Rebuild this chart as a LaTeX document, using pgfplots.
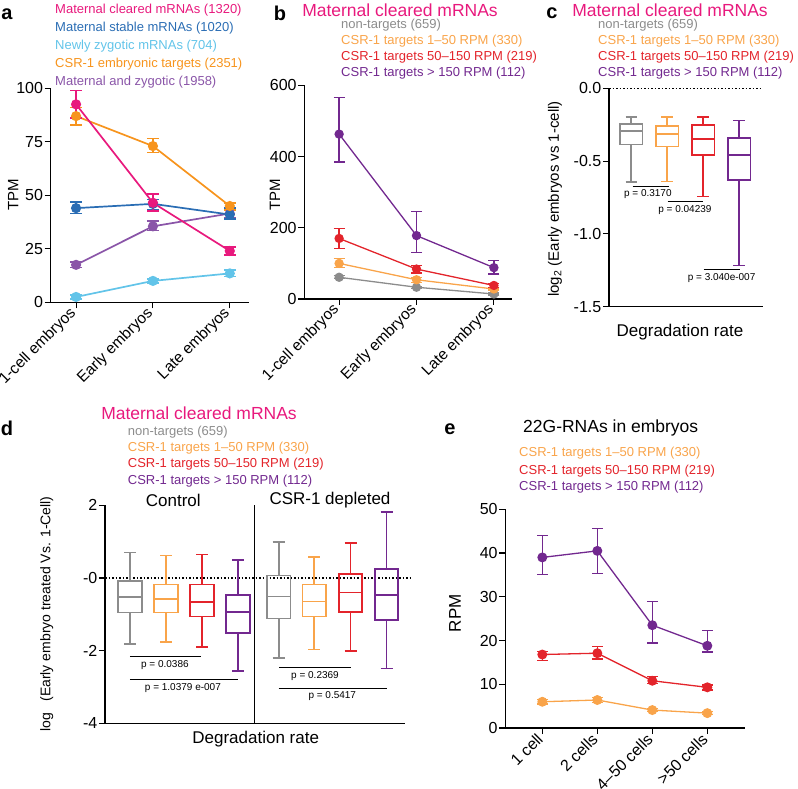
\documentclass[border=0pt]{standalone}
\usepackage{pgfplots}
\pgfplotsset{compat=1.18}
\usepackage{fontspec}
\setmainfont{Liberation Sans}

\definecolor{cmag}{HTML}{E8197D}
\definecolor{cblue}{HTML}{2A6DB4}
\definecolor{clblue}{HTML}{62C4E9}
\definecolor{corg}{HTML}{F7941D}
\definecolor{cpurp}{HTML}{8A55A8}
\definecolor{cgray}{HTML}{8C8C8C}
\definecolor{clorg}{HTML}{F9A44A}
\definecolor{cred}{HTML}{E3242B}
\definecolor{cdpurp}{HTML}{72288F}

\newcommand{\fs}[1]{\fontsize{#1}{#1}\selectfont}

\pgfplotsset{
  prism/.style={
    scale only axis, clip=false,
    axis lines=left, axis line style={-, line width=1.1pt},
    major tick length=6pt, tick align=outside,
    every tick/.style={black, line width=1.1pt},
    tick label style={font=\fs{16}},
    /pgf/number format/assume math mode=true,
    yticklabel style={inner sep=1.5pt},
  },
  ser/.style n args={4}{#1, line width=#2, mark=*, mark size=#3,
    mark options={solid, fill=#1},
    error bars/y dir=both, error bars/y explicit,
    error bars/error bar style={line width=#2, solid},
    error bars/error mark options={rotate=90, line width=#2, mark size=#4, #1}},
  bx/.style={line width=1.7pt, solid, mark=none, line join=miter},
}
\tikzset{
  lg/.style={anchor=west, inner sep=0pt, font=\fs{13}},
  ttl/.style={inner sep=0pt, font=\fs{17.5}},
  let/.style={inner sep=0pt, font=\fs{20}\bfseries},
  pv/.style={inner sep=0pt, font=\fs{10}},
}

% box: #1 colour, #2 position, #3 low whisker, #4 Q1, #5 median, #6 Q3, #7 high whisker, #8 half width
\newcommand{\bplot}[8]{%
  \pgfmathsetmacro\bxL{#2-#8}\pgfmathsetmacro\bxR{#2+#8}%
  \pgfmathsetmacro\cpL{#2-0.51*#8}\pgfmathsetmacro\cpR{#2+0.51*#8}%
  \edef\doit{%
    \noexpand\addplot[#1, bx] coordinates {(\bxL,#4) (\bxR,#4) (\bxR,#6) (\bxL,#6) (\bxL,#4) (\bxR,#4)};
    \noexpand\addplot[#1, bx] coordinates {(\bxL,#5) (\bxR,#5)};
    \noexpand\addplot[#1, bx] coordinates {(#2,#6) (#2,#7)};
    \noexpand\addplot[#1, bx] coordinates {(\cpL,#7) (\cpR,#7)};
    \noexpand\addplot[#1, bx] coordinates {(#2,#4) (#2,#3)};
    \noexpand\addplot[#1, bx] coordinates {(\cpL,#3) (\cpR,#3)};
  }\doit}

\begin{document}
\begin{tikzpicture}
\path[use as bounding box] (0pt,0pt) rectangle (798pt,788pt);

\begin{scope}[x=1pt, y=1pt]
% panel a texts
\node[let] at (7,774) {a};
\node[lg, text=cmag]   at (55,777.5) {Maternal cleared mRNAs (1320)};
\node[lg, text=cblue]  at (55,759.7) {Maternal stable mRNAs (1020)};
\node[lg, text=clblue] at (55,741.9) {Newly zygotic mRNAs (704)};
\node[lg, text=corg]   at (55,724.1) {CSR-1 embryonic targets (2351)};
\node[lg, text=cpurp]  at (55,706.3) {Maternal and zygotic (1958)};
\node[rotate=90, font=\fs{15}] at (13.3,593) {TPM};
% panel b texts
\node[let] at (280,775) {b};
\node[ttl, text=cmag] at (400,778) {Maternal cleared mRNAs};
\node[lg, text=cgray]  at (341,763) {non-targets (659)};
\node[lg, text=clorg]  at (341,747) {CSR-1 targets 1–50 RPM (330)};
\node[lg, text=cred]   at (341,731) {CSR-1 targets 50–150 RPM (219)};
\node[lg, text=cdpurp] at (341,715) {CSR-1 targets > 150 RPM (112)};
\node[rotate=90, font=\fs{15}] at (275,593) {TPM};
% panel c texts
\node[let] at (552,775) {c};
\node[ttl, text=cmag] at (670,778) {Maternal cleared mRNAs};
\node[lg, text=cgray]  at (598,763) {non-targets (659)};
\node[lg, text=clorg]  at (598,747) {CSR-1 targets 1–50 RPM (330)};
\node[lg, text=cred]   at (598,731) {CSR-1 targets 50–150 RPM (219)};
\node[lg, text=cdpurp] at (598,715) {CSR-1 targets > 150 RPM (112)};
\node[rotate=90, font=\fs{15}] at (555,589) {log\textsubscript{2} (Early embryos vs 1-cell)};
\node[font=\fs{17}] at (680,456.3) {Degradation rate};
% panel d texts
\node[let] at (7,360) {d};
\node[ttl, text=cmag] at (199,374.7) {Maternal cleared mRNAs};
\node[lg, text=cgray]  at (127.7,355.7) {non-targets (659)};
\node[lg, text=clorg]  at (127.7,339.5) {CSR-1 targets 1–50 RPM (330)};
\node[lg, text=cred]   at (127.7,323.4) {CSR-1 targets 50–150 RPM (219)};
\node[lg, text=cdpurp] at (127.7,307.3) {CSR-1 targets > 150 RPM (112)};
\node[rotate=90, font=\fs{14}] at (46.7,174) {log\hspace{0.8em}(Early embryo treated Vs. 1-Cell)};
\node[font=\fs{17}] at (173.3,288) {Control};
\node[font=\fs{17}] at (330,288) {CSR-1 depleted};
\node[font=\fs{17}] at (255.7,48.7) {Degradation rate};
% panel e texts
\node[let] at (450,359) {e};
\node[ttl] at (610.7,359.7) {22G-RNAs in embryos};
\node[lg, text=clorg]  at (519,334.7) {CSR-1 targets 1–50 RPM (330)};
\node[lg, text=cred]   at (519,317) {CSR-1 targets 50–150 RPM (219)};
\node[lg, text=cdpurp] at (519,300.7) {CSR-1 targets > 150 RPM (112)};
\node[rotate=90, font=\fs{17}] at (455,174.7) {RPM};
\end{scope}

% ---------------- panel a ----------------
\begin{axis}[prism, at={(50.7pt,485.7pt)}, anchor=south west,
  width=198.3pt, height=214pt,
  xmin=-0.33, xmax=2.25, ymin=0, ymax=100,
  xtick={0,1,2}, xticklabels={1-cell embryos, Early embryos, Late embryos},
  xticklabel style={rotate=45, anchor=east, font=\fs{15.5}},
  ytick={0,25,50,75,100}]
\addplot[ser={cpurp}{1.7pt}{4.2pt}{6pt}] coordinates {
  (0,17.5) += (0,1.2) -= (0,1.2) (1,35.5) += (0,2.5) -= (0,2) (2,41.5) += (0,2) -= (0,2)};
\addplot[ser={clblue}{1.7pt}{4.2pt}{6pt}] coordinates {
  (0,2.5) += (0,0.8) -= (0,0.8) (1,10) += (0,1) -= (0,1) (2,13.5) += (0,1.5) -= (0,1.5)};
\addplot[ser={cblue}{1.7pt}{4.2pt}{6pt}] coordinates {
  (0,44) += (0,3) -= (0,2.5) (1,46) += (0,2) -= (0,3) (2,41) += (0,3) -= (0,2)};
\addplot[ser={corg}{1.7pt}{4.2pt}{6pt}] coordinates {
  (0,87) += (0,4) -= (0,4) (1,73) += (0,3.5) -= (0,3) (2,45) += (0,1.5) -= (0,2)};
\addplot[ser={cmag}{1.7pt}{4.2pt}{6pt}] coordinates {
  (0,92.5) += (0,6.5) -= (0,6.5) (1,46.5) += (0,4) -= (0,4) (2,24) += (0,2) -= (0,2)};
\end{axis}

% ---------------- panel b ----------------
\begin{axis}[prism, at={(304.3pt,489pt)}, anchor=south west,
  width=207.4pt, height=213.7pt,
  xmin=-0.45, xmax=2.23, ymin=0, ymax=600,
  xtick={0,1,2}, xticklabels={1-cell embryos, Early embryos, Late embryos},
  xticklabel style={rotate=45, anchor=east, font=\fs{15.5}},
  ytick={0,200,400,600}]
\addplot[ser={cgray}{1.3pt}{4pt}{5.5pt}] coordinates {
  (0,61) += (0,4) -= (0,4) (1,33) += (0,3) -= (0,3) (2,14) += (0,3) -= (0,3)};
\addplot[ser={clorg}{1.3pt}{4pt}{5.5pt}] coordinates {
  (0,100) += (0,13) -= (0,12) (1,54) += (0,7) -= (0,7) (2,28) += (0,3) -= (0,3)};
\addplot[ser={cred}{1.3pt}{4pt}{5.5pt}] coordinates {
  (0,170) += (0,28) -= (0,28) (1,84) += (0,11) -= (0,11) (2,38) += (0,5) -= (0,5)};
\addplot[ser={cdpurp}{1.3pt}{4pt}{5.5pt}] coordinates {
  (0,463) += (0,102) -= (0,78) (1,178) += (0,68) -= (0,48) (2,88) += (0,20) -= (0,18)};
\end{axis}

% ---------------- panel c ----------------
\begin{axis}[prism, at={(609pt,481.3pt)}, anchor=south west,
  width=154.3pt, height=218.4pt,
  xmin=0.38, xmax=4.67, ymin=-1.5, ymax=0,
  xtick=\empty,
  ytick={-1.5,-1,-0.5,0}, yticklabels={-1.5,-1.0,-0.5,0.0}]
\draw[dotted, line width=1.5pt] (axis cs:0.38,0) -- (axis cs:4.66,0);
\bplot{cgray}{1}{-0.643}{-0.385}{-0.293}{-0.245}{-0.195}{0.315}
\bplot{clorg}{2}{-0.641}{-0.40}{-0.314}{-0.259}{-0.195}{0.315}
\bplot{cred}{3}{-0.744}{-0.458}{-0.35}{-0.252}{-0.195}{0.315}
\bplot{cdpurp}{4}{-1.218}{-0.632}{-0.458}{-0.339}{-0.222}{0.315}
\draw[line width=0.9pt] (axis cs:1.04,-0.671) -- (axis cs:2.05,-0.671);
\node[pv] at (axis cs:1.46,-0.728) {p = 0.3170};
\draw[line width=0.9pt] (axis cs:2.01,-0.78) -- (axis cs:2.99,-0.78);
\node[pv] at (axis cs:2.49,-0.838) {p = 0.04239};
\draw[line width=0.9pt] (axis cs:3.01,-1.243) -- (axis cs:4.02,-1.243);
\node[pv] at (axis cs:3.51,-1.30) {p = 3.040e-007};
\end{axis}

% ---------------- panel d ----------------
\begin{axis}[prism, at={(105pt,64.7pt)}, anchor=south west,
  width=300pt, height=218pt,
  xmin=0.306, xmax=8.64, ymin=-4, ymax=2,
  xtick=\empty,
  ytick={-4,-2,0,2}, yticklabels={-4,-2,-0,2}]
\draw[line width=1.1pt] (axis cs:4.47,-4) -- (axis cs:4.47,2);
\draw[dotted, line width=1.5pt] (axis cs:0.306,0) -- (axis cs:8.78,0);
\bplot{cgray}{1}{-1.826}{-0.954}{-0.532}{-0.083}{0.697}{0.325}
\bplot{clorg}{2}{-1.761}{-0.954}{-0.578}{-0.183}{0.615}{0.325}
\bplot{cred}{3}{-1.908}{-1.064}{-0.661}{-0.183}{0.642}{0.325}
\bplot{cdpurp}{4}{-2.569}{-1.523}{-0.945}{-0.468}{0.486}{0.325}
\bplot{cgray}{5.13}{-2.202}{-1.119}{-0.514}{0.064}{0.991}{0.325}
\bplot{clorg}{6.12}{-1.972}{-1.064}{-0.651}{-0.183}{0.578}{0.325}
\bplot{cred}{7.13}{-2.018}{-0.927}{-0.404}{0.101}{0.954}{0.325}
\bplot{cdpurp}{8.13}{-2.495}{-1.156}{-0.468}{0.239}{1.817}{0.325}
\draw[line width=0.9pt] (axis cs:1.0,-2.165) -- (axis cs:2.97,-2.165);
\node[pv] at (axis cs:1.97,-2.394) {p = 0.0386};
\draw[line width=0.9pt] (axis cs:1.0,-2.789) -- (axis cs:4.01,-2.789);
\node[pv] at (axis cs:2.47,-3.037) {p = 1.0379 e-007};
\draw[line width=0.9pt] (axis cs:5.15,-2.459) -- (axis cs:7.13,-2.459);
\node[pv] at (axis cs:6.14,-2.688) {p = 0.2369};
\draw[line width=0.9pt] (axis cs:5.13,-3.037) -- (axis cs:8.15,-3.037);
\node[pv] at (axis cs:6.62,-3.248) {p = 0.5417};
\end{axis}

% ---------------- panel e ----------------
\begin{axis}[prism, at={(505.3pt,60pt)}, anchor=south west,
  width=239.7pt, height=218.7pt,
  xmin=-0.673, xmax=3.685, ymin=0, ymax=50,
  xtick={0,1,2,3}, xticklabels={1 cell, 2 cells, 4–50 cells, >50 cells},
  xticklabel style={rotate=45, anchor=east, font=\fs{16}},
  ytick={0,10,20,30,40,50}]
\addplot[ser={clorg}{1.3pt}{4.3pt}{5.3pt}] coordinates {
  (0,6.0) += (0,0.5) -= (0,0.5) (1,6.4) += (0,0.6) -= (0,0.6)
  (2,4.1) += (0,0.3) -= (0,0.3) (3,3.4) += (0,0.3) -= (0,0.3)};
\addplot[ser={cred}{1.3pt}{4.3pt}{5.3pt}] coordinates {
  (0,16.8) += (0,0.7) -= (0,1.3) (1,17.1) += (0,1.5) -= (0,1.3)
  (2,10.8) += (0,0.9) -= (0,0.7) (3,9.3) += (0,0.5) -= (0,0.6)};
\addplot[ser={cdpurp}{1.3pt}{4.3pt}{5.3pt}] coordinates {
  (0,39.0) += (0,5.05) -= (0,3.9) (1,40.5) += (0,5.1) -= (0,5.1)
  (2,23.5) += (0,5.5) -= (0,4.1) (3,18.8) += (0,3.5) -= (0,1.4)};
\end{axis}
\end{tikzpicture}
\end{document}
